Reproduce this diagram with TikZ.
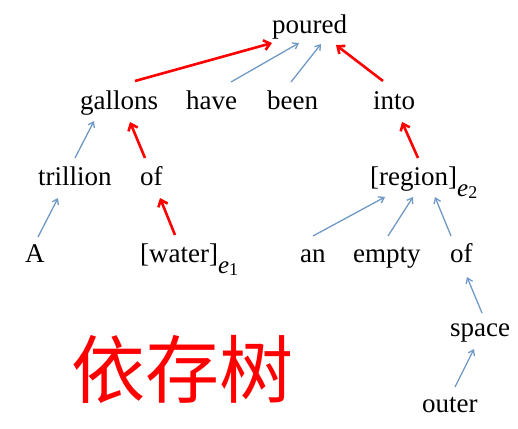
\documentclass[tikz,border=0pt]{standalone}
\usepackage{fontspec}
\setmainfont{Liberation Serif}
\newfontfamily\cjkfont{Noto Sans CJK SC}
\usepackage{tikz}
\usetikzlibrary{arrows.meta,calc}
\definecolor{depblue}{HTML}{7099C6}
\definecolor{depred}{HTML}{FF0000}
\newcommand{\entsub}[1]{\raisebox{-11pt}{\fontsize{25}{25}\selectfont\itshape e}\raisebox{-13pt}{\fontsize{18}{18}\selectfont #1}}

\begin{document}
\begin{tikzpicture}[
    x=1pt, y=-1pt,
    word/.style={inner sep=0pt, anchor=base west, font=\fontsize{27}{30}\selectfont},
    weakArc/.style={draw=depblue, line width=1.3pt, -{Straight Barb[length=5pt, width=7pt, line width=1.3pt]}},
    keyArc/.style={draw=depred, line width=2.6pt, -{Straight Barb[length=6pt, width=10pt, line width=2.6pt]}}
]
    \useasboundingbox (0,0) rectangle (518,428);

    % Woerter (base west an Pixelpositionen)
    \node[word] (poured)   at (272,34)  {poured};
    \node[word] (gallons)  at (80,109)  {gallons};
    \node[word] (have)     at (186,109) {have};
    \node[word] (been)     at (267,109) {been};
    \node[word] (into)     at (373,109) {into};
    \node[word] (trillion) at (38,185)  {trillion};
    \node[word] (ofA)      at (140,185) {of};
    \node[word] (region)   at (370,185) {[region]\entsub{2}};
    \node[word] (artA)     at (25,262)  {A};
    \node[word] (water)    at (140,262) {[water]\entsub{1}};
    \node[word] (an)       at (300,262) {an};
    \node[word] (empty)    at (353,262) {empty};
    \node[word] (ofB)      at (450,262) {of};
    \node[word] (space)    at (450,336) {space};
    \node[word] (outer)    at (422,412) {outer};

    % Handschrift
    \node[text=depred, inner sep=0pt, font=\cjkfont\fontsize{74}{74}\selectfont] (title) at (182,369) {依存树};

    % Kanten zu poured
    \draw[keyArc]  ($(gallons.base west)+(55,-28)$) -- ($(poured.base west)+(0,9)$);
    \draw[weakArc] ($(have.base west)+(45,-27)$)    -- ($(poured.base west)+(27,9)$);
    \draw[weakArc] ($(been.base west)+(24,-27)$)    -- ($(poured.base west)+(49,10)$);
    \draw[keyArc]  ($(into.base west)+(10,-28)$)    -- ($(poured.base west)+(64,11)$);

    % Kanten zweite Ebene
    \draw[weakArc] ($(trillion.base west)+(37,-27)$) -- ($(gallons.base west)+(14,12)$);
    \draw[keyArc]  ($(ofA.base west)+(5,-27)$)       -- ($(gallons.base west)+(50,13)$);
    \draw[keyArc]  ($(region.base west)+(48,-27)$)   -- ($(into.base west)+(29,13)$);

    % Kanten dritte Ebene
    \draw[weakArc] ($(artA.base west)+(13,-25)$)  -- ($(trillion.base west)+(20,13)$);
    \draw[keyArc]  ($(water.base west)+(35,-27)$) -- ($(ofA.base west)+(20,13)$);
    \draw[weakArc] ($(an.base west)+(13,-26)$)    -- ($(region.base west)+(15,12)$);
    \draw[weakArc] ($(empty.base west)+(35,-26)$) -- ($(region.base west)+(43,12)$);
    \draw[weakArc] ($(ofB.base west)+(1,-26)$)    -- ($(region.base west)+(65,12)$);

    % Kanten unten rechts
    \draw[weakArc] ($(space.base west)+(32,-23)$) -- ($(ofB.base west)+(17,15)$);
    \draw[weakArc] ($(outer.base west)+(33,-25)$) -- ($(space.base west)+(24,13)$);
\end{tikzpicture}
\end{document}
